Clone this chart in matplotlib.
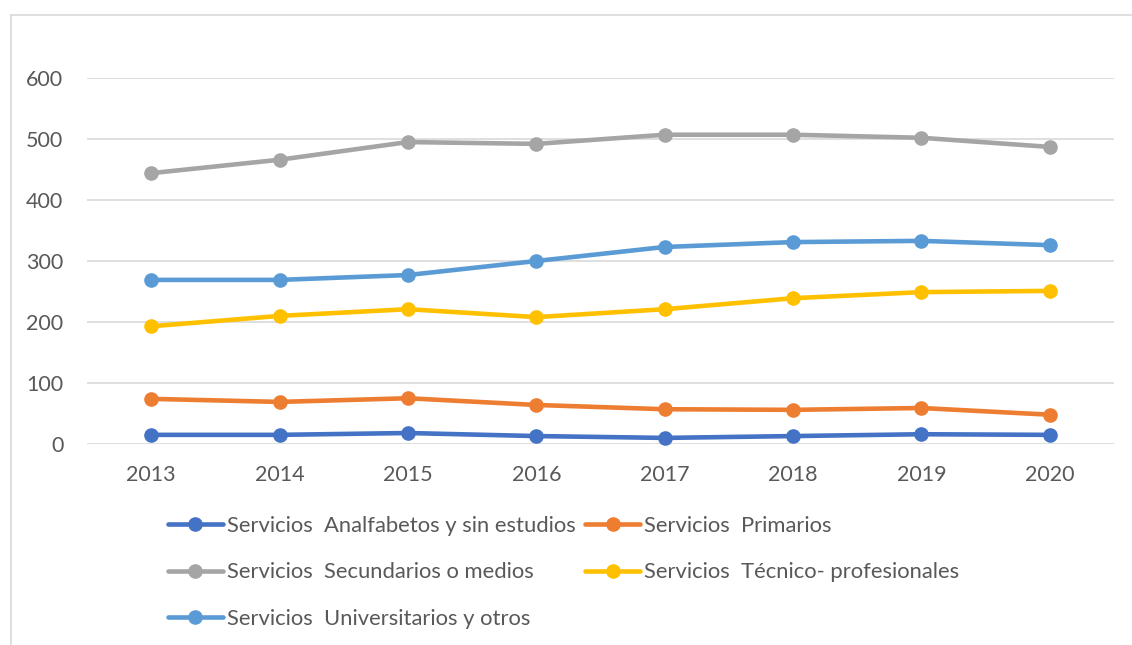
import matplotlib.pyplot as plt
from matplotlib.lines import Line2D

# Data
years = ["2013", "2014", "2015", "2016", "2017", "2018", "2019", "2020"]
analfabetos = [15, 15, 18, 13, 10, 13, 16, 15]
primarios = [74, 69, 75, 64, 57, 56, 59, 48]
secundarios = [444, 466, 495, 492, 507, 507, 502, 487]
tecnico = [193, 210, 221, 208, 221, 239, 249, 251]
universitarios = [269, 269, 277, 300, 323, 331, 333, 326]

labels = [
    "Servicios  Analfabetos y sin estudios",
    "Servicios  Primarios",
    "Servicios  Secundarios o medios",
    "Servicios  Técnico- profesionales",
    "Servicios  Universitarios y otros",
]
colors = ["#4472C4", "#ED7D31", "#A5A5A5", "#FFC000", "#5B9BD5"]
series = [analfabetos, primarios, secundarios, tecnico, universitarios]

text_color = "#595959"
plt.rcParams['font.family'] = ['Lato', 'DejaVu Sans']

fig = plt.figure(figsize=(11.32, 6.45), dpi=100)
ax = fig.add_axes([87 / 1132, 1 - 444 / 645, (1114 - 87) / 1132, (444 - 78) / 645])

x = list(range(len(years)))
handles = []
for vals, col, lab in zip(series, colors, labels):
    h, = ax.plot(x, vals, color=col, linewidth=3.3, marker='o', markersize=9.5,
                 label=lab, clip_on=False, solid_capstyle='round', zorder=3)
    handles.append(h)

ax.set_xlim(-0.5, len(years) - 0.5)
ax.set_ylim(0, 600)
ax.set_yticks(range(0, 601, 100))
ax.set_xticks(x)
ax.set_xticklabels(years)
ax.grid(axis='y', color='#D9D9D9', linewidth=1.2)
ax.set_axisbelow(True)
for s in ax.spines.values():
    s.set_visible(False)
ax.tick_params(length=0, labelsize=15.5, colors=text_color)
ax.tick_params(axis='x', pad=15)
ax.tick_params(axis='y', pad=17)

# legend laid out row by row
order = [0, 2, 4, 1, 3]
leg = fig.legend([handles[i] for i in order], [labels[i] for i in order],
                 ncol=2, loc='upper left', bbox_to_anchor=(168 / 1132, 1 - 516 / 645),
                 frameon=False, fontsize=15.8, handlelength=2.5, handletextpad=0.18,
                 columnspacing=0.45, labelspacing=1.2, borderaxespad=0, borderpad=0)
for t in leg.get_texts():
    t.set_color(text_color)

# chart border (top and left visible)
fig.add_artist(Line2D([10.5 / 1132, 1], [1 - 14.5 / 645] * 2, color='#D9D9D9', linewidth=1.2))
fig.add_artist(Line2D([10.5 / 1132] * 2, [0, 1 - 14.5 / 645], color='#D9D9D9', linewidth=1.2))

fig.savefig("out.png", dpi=100)
